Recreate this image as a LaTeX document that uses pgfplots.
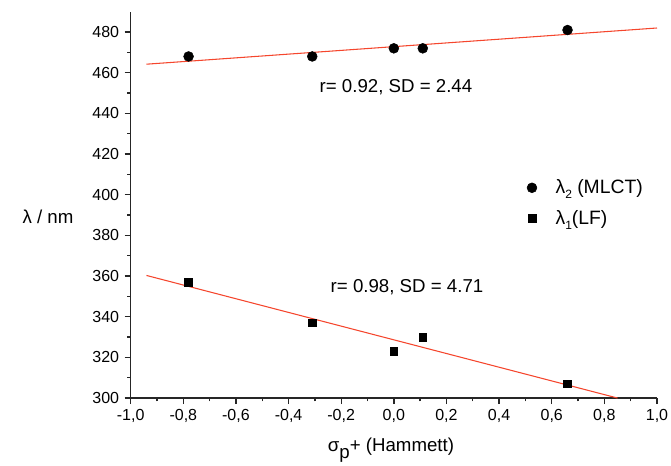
\documentclass[border=0pt]{standalone}
\usepackage{fontspec}
\setmainfont{Liberation Sans}
\usepackage{pgfplots}
\pgfplotsset{compat=1.18}

\definecolor{fitred}{RGB}{245,70,45}

\begin{document}
\fontsize{12}{14}\selectfont
\begin{tikzpicture}
\begin{axis}[
  width=394.7pt, height=289.7pt,
  scale only axis,
  axis lines=left,
  axis line style={-, line width=1pt, black!85},
  xmin=-1, xmax=1,
  ymin=300, ymax=490,
  xtick={-1,-0.8,...,1.01},
  minor x tick num=1,
  ytick={300,320,...,480},
  minor y tick num=1,
  tick align=outside,
  major tick length=4.5pt,
  minor tick length=2.5pt,
  tick style={line width=1pt, black!85},
  ticklabel style={font=\fontsize{12}{14}\selectfont},
  /pgf/number format/assume math mode=true,
  xticklabel style={/pgf/number format/.cd, fixed, fixed zerofill, precision=1, use comma},
  yticklabel style={/pgf/number format/.cd, fixed, precision=0},
  xticklabel={\pgfmathprintnumber{\tick}},
  clip=false,
  legend image code/.code={\draw[#1] plot coordinates {(0cm,0cm)};},
  legend style={draw=none, fill=none, at={(0.745,0.58)}, anchor=north west,
    row sep=6.5pt, column sep=12pt, font=\fontsize{14.5}{16}\selectfont},
  legend cell align=left,
]
% lambda_2 (MLCT)
\addplot[only marks, mark=*, mark size=3.7pt, black] coordinates {
  (-0.78,468) (-0.31,468) (0.00,472) (0.11,472) (0.66,481)
};
\addlegendentry{λ\raisebox{-0.5ex}{\fontsize{9}{10}\selectfont 2} (MLCT)}
% lambda_1 (LF)
\addplot[only marks, mark=square*, mark size=2.9pt, black] coordinates {
  (-0.78,357) (-0.31,337) (0.00,323) (0.11,330) (0.66,307)
};
\addlegendentry{λ\raisebox{-0.5ex}{\fontsize{9}{10}\selectfont 1}(LF)}
% linear fits
\addplot[fitred, line width=0.8pt, forget plot] coordinates {(-0.94,464.2) (1.0,482.0)};
\addplot[fitred, line width=0.8pt, forget plot] coordinates {(-0.94,360.3) (0.85,300.0)};

\node[font=\fontsize{14}{16}\selectfont] at (axis cs:0.008,452.8) {r= 0.92, SD = 2.44};
\node[font=\fontsize{14}{16}\selectfont] at (axis cs:0.05,354.5) {r= 0.98, SD = 4.71};

\node[font=\fontsize{14}{16}\selectfont] at ([xshift=-62pt]rel axis cs:0,0.469) {λ / nm};
\node[font=\fontsize{14}{16}\selectfont] at ([yshift=-39pt]rel axis cs:0.4946,0) {σ\raisebox{-0.7ex}{p}+ (Hammett)};

\coordinate (o) at (rel axis cs:0,0);
\coordinate (t) at (rel axis cs:1,1);
\end{axis}
\pgfresetboundingbox
\path ([xshift=-98pt, yshift=-50.25pt]o) rectangle ([xshift=10.5pt, yshift=8.8pt]t);
\end{tikzpicture}
\end{document}
